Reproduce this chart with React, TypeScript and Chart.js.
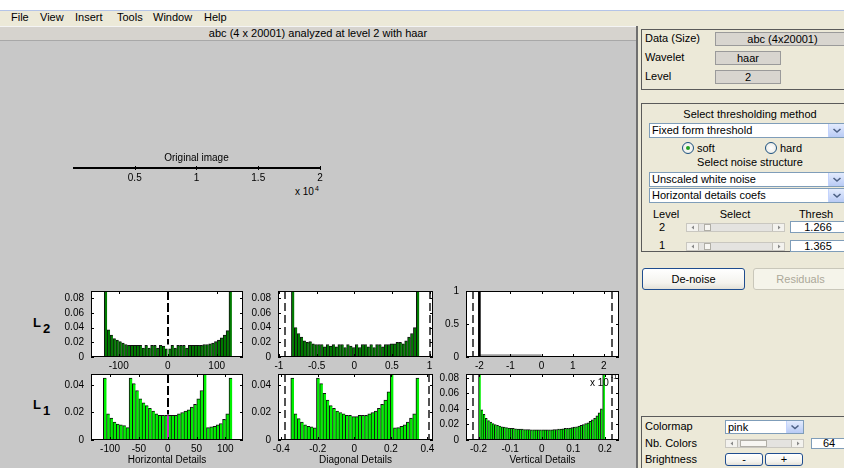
import React, { useEffect, useRef } from "react";
import { Chart, registerables } from "chart.js";

Chart.register(...registerables);

const FONT = "'Liberation Sans', Arial, Helvetica, sans-serif";

// ================= DATA =================
const MENU_ITEMS = ["File", "View", "Insert", "Tools", "Window", "Help"];
const FIGURE_TITLE = "abc (4 x 20001) analyzed at level 2 with haar";

// Original image axis
const ORIGINAL_X_RANGE = [1, 20001];
const ORIGINAL_X_TICKS = [5000, 10000, 15000, 20000];
const ORIGINAL_X_TICK_LABELS = ["0.5", "1", "1.5", "2"];

// Level 2 - Horizontal details histogram
const H2_BIN_RANGE = [-129.5, 131];
const H2_VALUES = [
  0.12, 0.037, 0.030, 0.025, 0.023, 0.021, 0.019, 0.017, 0.016, 0.016, 0.016,
  0.016, 0.016, 0.012, 0.016, 0.012, 0.016, 0.016, 0.012, 0.016, 0.015, 0.011,
  0.011, 0.016, 0.012, 0.016, 0.016, 0.016, 0.012, 0.016, 0.016, 0.016, 0.016,
  0.016, 0.017, 0.017, 0.018, 0.019, 0.021, 0.023, 0.026, 0.030, 0.036, 0.12,
];
const H2_X_RANGE = [-156.5, 153.7];
const H2_X_TICKS = [-100, 0, 100];
const H2_Y_MAX = 0.09;
const H2_Y_TICKS = [0, 0.02, 0.04, 0.06, 0.08];
const H2_THRESHOLDS = [0];

// Level 2 - Diagonal details histogram
const D2_BIN_RANGE = [-0.835, 0.862];
const D2_VALUES = [
  0.12, 0.040, 0.032, 0.027, 0.022, 0.020, 0.021, 0.018, 0.017, 0.017, 0.017,
  0.014, 0.017, 0.015, 0.017, 0.014, 0.017, 0.017, 0.013, 0.017, 0.015, 0.013,
  0.017, 0.013, 0.017, 0.017, 0.014, 0.017, 0.013, 0.017, 0.017, 0.014, 0.017,
  0.017, 0.018, 0.018, 0.020, 0.020, 0.018, 0.022, 0.027, 0.032, 0.040, 0.12,
];
const D2_X_RANGE = [-1.013, 1.045];
const D2_X_TICKS = [-1, -0.5, 0, 0.5, 1];
const D2_Y_MAX = 0.09;
const D2_Y_TICKS = [0, 0.02, 0.04, 0.06, 0.08];
const D2_THRESHOLDS = [-0.92, 1.0];

// Level 2 - Vertical details histogram
const V2_SPIKE = [{ x: -2.0, y: 1 }];
const V2_FLAT = [{ x: -2.0, y: 0.025 }, { x: 0, y: 0.025 }];
const V2_X_RANGE = [-2.43, 2.49];
const V2_X_TICKS = [-2, -1, 0, 1, 2];
const V2_Y_MAX = 1;
const V2_Y_TICKS = [0, 0.5, 1];
const V2_THRESHOLDS = [-2.2, 2.25];

// Level 1 - Horizontal details histogram
const H1_BIN_RANGE = [-111.8, 112];
const H1_VALUES = [
  0.045, 0.019, 0.016, 0.013, 0.0115, 0.011, 0.0105, 0.009,
  0.045, 0.041, 0.036, 0.030, 0.027, 0.025, 0.023, 0.021, 0.019, 0.018, 0.018, 0.018,
  0.018, 0.018, 0.018, 0.019, 0.020, 0.021, 0.022, 0.024, 0.026, 0.030, 0.036, 0.049,
  0.009, 0.0095, 0.010, 0.011, 0.012, 0.015, 0.019, 0.045,
];
const H1_X_RANGE = [-133.2, 130.7];
const H1_X_TICKS = [-100, -50, 0, 50, 100];
const H1_Y_MAX = 0.048;
const H1_Y_TICKS = [0, 0.02, 0.04];
const H1_THRESHOLDS = [0];
const H1_CENTER_LEVEL = 0.0178;

// Level 1 - Diagonal details histogram
const D1_BIN_RANGE = [-0.348, 0.355];
const D1_VALUES = [
  0.045, 0.019, 0.0155, 0.013, 0.011, 0.010, 0.0095, 0.0088,
  0.045, 0.041, 0.034, 0.029, 0.025, 0.023, 0.021, 0.020, 0.019, 0.018, 0.018, 0.017,
  0.017, 0.018, 0.018, 0.018, 0.019, 0.020, 0.021, 0.023, 0.026, 0.029, 0.035, 0.049,
  0.0088, 0.009, 0.010, 0.011, 0.013, 0.016, 0.019, 0.045,
];
const D1_X_RANGE = [-0.418, 0.431];
const D1_X_TICKS = [-0.4, -0.2, 0, 0.2, 0.4];
const D1_Y_MAX = 0.048;
const D1_Y_TICKS = [0, 0.02, 0.04];
const D1_THRESHOLDS = [-0.38, 0.41];

// Level 1 - Vertical details histogram
const V1_BIN_RANGE = [-0.2, 0.2];
const V1_VALUES = [
  0.12, 0.039, 0.033, 0.028, 0.025, 0.023, 0.021, 0.020, 0.019, 0.018, 0.017,
  0.0165, 0.016, 0.0155, 0.015, 0.015, 0.0145, 0.014, 0.014, 0.014, 0.0135,
  0.0135, 0.0135, 0.013, 0.013, 0.013, 0.013, 0.013,
  0.013, 0.013, 0.013, 0.013, 0.013, 0.0135, 0.0135, 0.014, 0.014, 0.0145,
  0.015, 0.015, 0.0155, 0.016, 0.0165, 0.017, 0.018, 0.019, 0.020, 0.021,
  0.022, 0.024, 0.026, 0.028, 0.031, 0.035, 0.040, 0.12,
];
const V1_X_RANGE = [-0.2396, 0.2446];
const V1_X_TICKS = [-0.2, -0.1, 0, 0.1, 0.2];
const V1_Y_MAX = 0.085;
const V1_Y_TICKS = [0, 0.02, 0.04, 0.06, 0.08];
const V1_THRESHOLDS = [-0.218, 0.222];

// ================= CHART HELPERS =================
const L2_FILL = "#007a00";
const L1_FILL = "#00f000";
const BAR_EDGE = "#101010";

function histDataset(range: number[], values: number[], fill: string) {
  const w = (range[1] - range[0]) / values.length;
  return {
    type: "bar",
    data: values.map((v, i) => ({ x: range[0] + (i + 0.5) * w, y: v })),
    backgroundColor: fill,
    borderColor: BAR_EDGE,
    borderWidth: { left: 1, top: 1, right: 0, bottom: 0 },
    borderSkipped: false,
    barPercentage: 1,
    categoryPercentage: 1,
    grouped: false,
    clip: 0,
  };
}

type VLine = { x: number; y0: number; y1: number; color: string; width: number; dash: number[] };
type AxesSpec = {
  left: number;
  top: number;
  width: number;
  height: number;
  xRange: number[];
  yMax: number;
  xTicks: number[];
  yTicks: number[];
  xTickLabels?: string[];
  showY?: boolean;
  axisHeight: number;
  xTitle?: string;
  chartTitle?: string;
  datasets: any[];
  lines?: VLine[];
};

const dashedLines = (xs: number[], yMax: number): VLine[] =>
  xs.map((x) => ({ x, y0: yMax, y1: 0, color: "#1a1a1a", width: 1.5, dash: [8, 4] }));

function MatlabAxes({ spec }: { spec: AxesSpec }) {
  const ref = useRef<HTMLCanvasElement | null>(null);
  const showY = spec.showY !== false;
  const yw = showY ? 40 : 0;
  const padL = showY ? 0 : 14;
  const padR = 14;
  const titleH = spec.chartTitle ? 15 : 0;
  const padT = spec.chartTitle ? 0 : 7;
  const padB = 2;
  const cw = spec.width + yw + padL + padR;
  const ch = spec.height + padT + titleH + spec.axisHeight + padB;
  const cl = spec.left - yw - padL;
  const ct = spec.top - padT - titleH;

  useEffect(() => {
    const canvas = ref.current as HTMLCanvasElement;
    const plugin = {
      id: "matlabAxes",
      beforeDatasetsDraw(chart: any) {
        const { ctx, chartArea: a } = chart;
        ctx.save();
        ctx.fillStyle = "#ffffff";
        ctx.fillRect(a.left, a.top, a.right - a.left, a.bottom - a.top);
        ctx.restore();
      },
      afterDatasetsDraw(chart: any) {
        const { ctx, chartArea: a, scales } = chart;
        const xs = scales.x;
        const ys = scales.y;
        ctx.save();
        ctx.beginPath();
        ctx.rect(a.left, a.top, a.right - a.left, a.bottom - a.top);
        ctx.clip();
        for (const l of spec.lines || []) {
          const px = Math.round(xs.getPixelForValue(l.x));
          ctx.beginPath();
          ctx.strokeStyle = l.color;
          ctx.lineWidth = l.width;
          ctx.setLineDash(l.dash);
          ctx.moveTo(px, ys.getPixelForValue(l.y0));
          ctx.lineTo(px, ys.getPixelForValue(l.y1));
          ctx.stroke();
        }
        ctx.restore();
        ctx.save();
        ctx.strokeStyle = "#000";
        ctx.lineWidth = 1;
        ctx.setLineDash([]);
        ctx.strokeRect(a.left + 0.5, a.top + 0.5, a.right - a.left - 1, a.bottom - a.top - 1);
        ctx.beginPath();
        for (const v of spec.xTicks) {
          const px = Math.round(xs.getPixelForValue(v)) + 0.5;
          ctx.moveTo(px, a.bottom);
          ctx.lineTo(px, a.bottom - 3);
          ctx.moveTo(px, a.top);
          ctx.lineTo(px, a.top + 3);
        }
        if (showY) {
          for (const v of spec.yTicks) {
            const py = Math.round(ys.getPixelForValue(v)) + 0.5;
            ctx.moveTo(a.left, py);
            ctx.lineTo(a.left + 3, py);
            ctx.moveTo(a.right, py);
            ctx.lineTo(a.right - 3, py);
          }
        }
        ctx.stroke();
        ctx.restore();
      },
    };

    const tickFont = { family: FONT, size: 10 };
    const chart = new Chart(canvas, {
      type: "bar",
      data: { datasets: spec.datasets },
      options: {
        animation: false,
        responsive: false,
        maintainAspectRatio: false,
        devicePixelRatio: 1,
        events: [],
        layout: { padding: { left: padL, right: padR, top: padT, bottom: padB } },
        plugins: {
          legend: { display: false },
          tooltip: { enabled: false },
          title: spec.chartTitle
            ? {
                display: true,
                text: spec.chartTitle,
                color: "#000",
                font: { family: FONT, size: 10, weight: "normal" },
                padding: { top: 0, bottom: 3 },
              }
            : { display: false },
        },
        scales: {
          x: {
            type: "linear",
            min: spec.xRange[0],
            max: spec.xRange[1],
            offset: false,
            grid: { display: false, drawTicks: false, offset: false },
            border: { display: false },
            ticks: {
              padding: 3,
              maxRotation: 0,
              minRotation: 0,
              autoSkip: false,
              color: "#000",
              font: tickFont,
              callback: (v: any, i: number) => (spec.xTickLabels ? spec.xTickLabels[i] : String(v)),
            },
            title: spec.xTitle
              ? { display: true, text: spec.xTitle, color: "#000", font: tickFont, padding: { top: 0, bottom: 0 } }
              : { display: false },
            afterBuildTicks: (s: any) => {
              s.ticks = spec.xTicks.map((v) => ({ value: v }));
            },
            afterFit: (s: any) => {
              s.height = spec.axisHeight;
              s.paddingLeft = 0;
              s.paddingRight = 0;
            },
          },
          y: {
            type: "linear",
            display: showY,
            min: 0,
            max: spec.yMax,
            grid: { display: false, drawTicks: false },
            border: { display: false },
            ticks: {
              padding: 7,
              color: "#000",
              font: tickFont,
              callback: (v: any) => String(v),
            },
            afterBuildTicks: (s: any) => {
              s.ticks = spec.yTicks.map((v) => ({ value: v }));
            },
            afterFit: (s: any) => {
              s.width = yw;
              s.paddingTop = 0;
              s.paddingBottom = 0;
            },
          },
        },
      } as any,
      plugins: [plugin],
    } as any);
    return () => chart.destroy();
  }, []);

  return (
    <canvas
      ref={ref}
      width={cw}
      height={ch}
      style={{ position: "absolute", left: cl, top: ct, width: cw, height: ch }}
    />
  );
}

// ================= GUI HELPERS =================
const abs = (l: number, t: number, w: number, h: number, extra: any = {}) => ({
  position: "absolute" as const,
  left: l,
  top: t,
  width: w,
  height: h,
  boxSizing: "border-box" as const,
  ...extra,
});

function Text({ x, cy, text, center, color }: any) {
  const st: any = {
    position: "absolute",
    top: cy - 7,
    height: 14,
    lineHeight: "14px",
    whiteSpace: "nowrap",
    fontSize: 11,
    color: color || "#000",
  };
  if (center) {
    st.left = x - 110;
    st.width = 220;
    st.textAlign = "center";
  } else st.left = x;
  return <div style={st}>{text}</div>;
}

function Frame({ l, t, w, h }: any) {
  return <div style={abs(l, t, w, h, { border: "1px solid #5a5a5a" })} />;
}

function StaticBox({ l, t, w, h, text }: any) {
  return (
    <div
      style={abs(l, t, w, h, {
        background: "#d8d5cf",
        border: "1px solid #9a9a9a",
        textAlign: "center",
        fontSize: 11,
        lineHeight: `${h - 2}px`,
      })}
    >
      {text}
    </div>
  );
}

function EditBox({ l, t, w, h, text }: any) {
  return (
    <div
      style={abs(l, t, w, h, {
        background: "#fff",
        border: "1px solid #7f9db9",
        textAlign: "center",
        fontSize: 11,
        lineHeight: `${h - 2}px`,
      })}
    >
      {text}
    </div>
  );
}

function Popup({ l, t, w, h, text }: any) {
  return (
    <div
      style={abs(l, t, w, h, {
        background: "#fff",
        border: "1px solid #7f9db9",
        fontSize: 11,
        lineHeight: `${h - 2}px`,
        paddingLeft: 2,
        whiteSpace: "nowrap",
        overflow: "hidden",
      })}
    >
      {text}
      <div
        style={{
          position: "absolute",
          right: 0,
          top: 0,
          width: 16,
          height: h - 2,
          background: "linear-gradient(#e3ebfd,#b9cbf5)",
          borderLeft: "1px solid #c3d3fd",
        }}
      >
        <svg width={16} height={h - 2} style={{ display: "block" }}>
          <polyline
            points={`4.5,${(h - 2) / 2 - 1.5} 8,${(h - 2) / 2 + 1.5} 11.5,${(h - 2) / 2 - 1.5}`}
            fill="none"
            stroke="#4d6185"
            strokeWidth={1.6}
          />
        </svg>
      </div>
    </div>
  );
}

function Slider({ l, t, w, h, thumbL, thumbW }: any) {
  const bw = 12;
  return (
    <div style={abs(l, t, w, h, { background: "#e4e3e0", border: "1px solid #c9c7c0" })}>
      <div style={abs(0, 0, bw, h - 2, { background: "#f3f2ee", borderRight: "1px solid #c0beb6" })}>
        <svg width={bw} height={h - 2} style={{ display: "block" }}>
          <polygon points={`${bw / 2 + 1},${(h - 2) / 2 - 2} ${bw / 2 - 1.5},${(h - 2) / 2} ${bw / 2 + 1},${(h - 2) / 2 + 2}`} fill="#888" />
        </svg>
      </div>
      <div style={abs(w - 2 - bw, 0, bw, h - 2, { background: "#f3f2ee", borderLeft: "1px solid #c0beb6" })}>
        <svg width={bw} height={h - 2} style={{ display: "block" }}>
          <polygon points={`${bw / 2 - 1},${(h - 2) / 2 - 2} ${bw / 2 + 1.5},${(h - 2) / 2} ${bw / 2 - 1},${(h - 2) / 2 + 2}`} fill="#888" />
        </svg>
      </div>
      <div style={abs(thumbL, 0, thumbW, h - 2, { background: "#f7f6f2", border: "1px solid #b0aea6" })} />
    </div>
  );
}

function Button({ l, t, w, h, text, disabled }: any) {
  return (
    <div
      style={abs(l, t, w, h, {
        border: disabled ? "1px solid #c9c7ba" : "1px solid #1f4d8f",
        borderRadius: 3,
        background: disabled ? "#f5f4ea" : "linear-gradient(#ffffff,#f4f3ee 70%,#e3e1d8)",
        color: disabled ? "#aca899" : "#000",
        textAlign: "center",
        fontSize: 11,
        lineHeight: `${h - 2}px`,
      })}
    >
      {text}
    </div>
  );
}

function Radio({ cx, cy, on }: any) {
  return (
    <div
      style={abs(cx - 6, cy - 6, 12, 12, {
        borderRadius: "50%",
        border: "1px solid #1c5180",
        background: "radial-gradient(#ffffff,#e6e6e0)",
      })}
    >
      {on ? <div style={abs(3, 3, 4, 4, { borderRadius: "50%", background: "#21a121" })} /> : null}
    </div>
  );
}

function LevelTag({ x, y, n }: any) {
  return (
    <>
      <div style={{ position: "absolute", left: x, top: y, fontSize: 13, fontWeight: "bold", lineHeight: "13px" }}>L</div>
      <div style={{ position: "absolute", left: x + 10, top: y + 6, fontSize: 13, fontWeight: "bold", lineHeight: "13px" }}>{n}</div>
    </>
  );
}

// ================= SPECS =================
const ORIGINAL_SPEC: AxesSpec = {
  left: 73, top: 167, width: 247, height: 2,
  xRange: ORIGINAL_X_RANGE, yMax: 1, xTicks: ORIGINAL_X_TICKS, yTicks: [],
  xTickLabels: ORIGINAL_X_TICK_LABELS, showY: false, axisHeight: 14,
  chartTitle: "Original image", datasets: [],
};

const H2_SPEC: AxesSpec = {
  left: 91, top: 291, width: 152, height: 66,
  xRange: H2_X_RANGE, yMax: H2_Y_MAX, xTicks: H2_X_TICKS, yTicks: H2_Y_TICKS, axisHeight: 14,
  datasets: [histDataset(H2_BIN_RANGE, H2_VALUES, L2_FILL)],
  lines: [
    ...H2_THRESHOLDS.map((x) => ({ x, y0: H2_Y_MAX, y1: 0.017, color: "#000", width: 2, dash: [9, 3] })),
    ...H2_THRESHOLDS.map((x) => ({ x, y0: 0.016, y1: 0, color: "#ffffff", width: 1, dash: [] })),
  ],
};

const D2_SPEC: AxesSpec = {
  left: 278, top: 291, width: 155, height: 66,
  xRange: D2_X_RANGE, yMax: D2_Y_MAX, xTicks: D2_X_TICKS, yTicks: D2_Y_TICKS, axisHeight: 14,
  datasets: [histDataset(D2_BIN_RANGE, D2_VALUES, L2_FILL)],
  lines: dashedLines(D2_THRESHOLDS, D2_Y_MAX),
};

const V2_SPEC: AxesSpec = {
  left: 466, top: 291, width: 153, height: 66,
  xRange: V2_X_RANGE, yMax: V2_Y_MAX, xTicks: V2_X_TICKS, yTicks: V2_Y_TICKS, axisHeight: 14,
  datasets: [
    { type: "bar", data: V2_SPIKE, backgroundColor: "#000", borderWidth: 0, barThickness: 2, clip: 0 },
    { type: "line", data: V2_FLAT, borderColor: "#9c9c9c", borderWidth: 2, pointRadius: 0, clip: 0 },
  ],
  lines: dashedLines(V2_THRESHOLDS, V2_Y_MAX),
};

const H1_SPEC: AxesSpec = {
  left: 91, top: 374, width: 152, height: 66,
  xRange: H1_X_RANGE, yMax: H1_Y_MAX, xTicks: H1_X_TICKS, yTicks: H1_Y_TICKS, axisHeight: 26,
  xTitle: "Horizontal Details",
  datasets: [histDataset(H1_BIN_RANGE, H1_VALUES, L1_FILL)],
  lines: [
    ...H1_THRESHOLDS.map((x) => ({ x, y0: H1_Y_MAX, y1: H1_CENTER_LEVEL + 0.0008, color: "#000", width: 2, dash: [9, 3] })),
    ...H1_THRESHOLDS.map((x) => ({ x, y0: H1_CENTER_LEVEL, y1: 0, color: "#ff00ff", width: 1.5, dash: [] })),
  ],
};

const D1_SPEC: AxesSpec = {
  left: 278, top: 374, width: 155, height: 66,
  xRange: D1_X_RANGE, yMax: D1_Y_MAX, xTicks: D1_X_TICKS, yTicks: D1_Y_TICKS, axisHeight: 26,
  xTitle: "Diagonal Details",
  datasets: [histDataset(D1_BIN_RANGE, D1_VALUES, L1_FILL)],
  lines: dashedLines(D1_THRESHOLDS, D1_Y_MAX),
};

const V1_SPEC: AxesSpec = {
  left: 466, top: 374, width: 153, height: 66,
  xRange: V1_X_RANGE, yMax: V1_Y_MAX, xTicks: V1_X_TICKS, yTicks: V1_Y_TICKS, axisHeight: 26,
  xTitle: "Vertical Details",
  datasets: [histDataset(V1_BIN_RANGE, V1_VALUES, L1_FILL)],
  lines: dashedLines(V1_THRESHOLDS, V1_Y_MAX),
};

const MENU_X = [11, 40, 75, 117, 153, 204];

export default function App() {
  return (
    <div
      style={{
        position: "fixed",
        left: 0,
        top: 0,
        width: 844,
        height: 468,
        overflow: "hidden",
        background: "#c8c8c8",
        fontFamily: FONT,
        fontSize: 11,
        color: "#000",
      }}
    >
      {/* window top strip & menu */}
      <div style={abs(0, 0, 844, 10, { background: "#ffffff" })} />
      <div style={abs(0, 10, 844, 16, { background: "#ece9d8", borderTop: "1px solid #b4c4e8" })} />
      {MENU_ITEMS.map((m, i) => (
        <div key={m} style={{ position: "absolute", left: MENU_X[i], top: 10, height: 15, lineHeight: "15px", fontSize: 11 }}>
          {m}
        </div>
      ))}

      {/* figure title bar */}
      <div
        style={abs(0, 26, 636, 15, {
          background: "#d6d3ce",
          borderTop: "1px solid #f4f4f4",
          borderBottom: "1px solid #a8a8a8",
          textAlign: "center",
          lineHeight: "13px",
          fontSize: 11,
        })}
      >
        {FIGURE_TITLE}
      </div>

      {/* right control panel */}
      <div style={abs(636, 26, 2, 442, { background: "#6f6f6f" })} />
      <div style={abs(638, 26, 206, 442, { background: "#ece9d8" })} />

      <Frame l={641} t={29} w={210} h={61} />
      <Text x={645} cy={38} text="Data  (Size)" />
      <StaticBox l={715} t={32} w={135} h={14} text="abc  (4x20001)" />
      <Text x={645} cy={57} text="Wavelet" />
      <StaticBox l={715} t={51} w={66} h={14} text="haar" />
      <Text x={645} cy={76} text="Level" />
      <StaticBox l={715} t={70} w={66} h={14} text="2" />

      <Frame l={641} t={103} w={210} h={149} />
      <Text x={750} cy={114} text="Select thresholding method" center />
      <Popup l={649} t={123} w={197} h={15} text="Fixed form threshold" />
      <Radio cx={688} cy={148} on />
      <Text x={697} cy={148} text="soft" />
      <Radio cx={771} cy={148} />
      <Text x={780} cy={148} text="hard" />
      <Text x={750} cy={162} text="Select noise structure" center />
      <Popup l={649} t={172} w={197} h={15} text="Unscaled white noise" />
      <Popup l={649} t={188} w={197} h={15} text="Horizontal details coefs" />
      <Text x={653} cy={214} text="Level" />
      <Text x={735} cy={214} text="Select" center />
      <Text x={816} cy={214} text="Thresh" center />
      <Text x={659} cy={227} text="2" />
      <Slider l={686} t={223} w={99} h={9} thumbL={17} thumbW={7} />
      <EditBox l={790} t={221} w={56} h={12} text="1.266" />
      <Text x={659} cy={245} text="1" />
      <Slider l={686} t={242} w={99} h={9} thumbL={17} thumbW={7} />
      <EditBox l={790} t={240} w={56} h={12} text="1.365" />

      <Button l={642} t={268} w={103} h={22} text="De-noise" />
      <Button l={753} t={268} w={95} h={22} text="Residuals" disabled />

      <Frame l={641} t={416} w={210} h={60} />
      <Text x={645} cy={426} text="Colormap" />
      <Popup l={725} t={420} w={79} h={14} text="pink" />
      <Text x={645} cy={443} text="Nb. Colors" />
      <Slider l={725} t={439} w={79} h={9} thumbL={14} thumbW={27} />
      <EditBox l={811} t={438} w={36} h={11} text="64" />
      <Text x={645} cy={459} text="Brightness" />
      <Button l={725} t={453} w={38} h={13} text="-" />
      <Button l={765} t={453} w={38} h={13} text="+" />

      {/* main plot area */}
      <MatlabAxes spec={ORIGINAL_SPEC} />
      <div style={{ position: "absolute", left: 295, top: 186, fontSize: 10, lineHeight: "12px", whiteSpace: "nowrap" }}>
        x 10<sup style={{ fontSize: 7, verticalAlign: "top", position: "relative", top: -3, marginLeft: 1 }}>4</sup>
      </div>

      <LevelTag x={33} y={316} n="2" />
      <LevelTag x={33} y={398} n="1" />

      <MatlabAxes spec={H2_SPEC} />
      <MatlabAxes spec={D2_SPEC} />
      <MatlabAxes spec={V2_SPEC} />
      <MatlabAxes spec={H1_SPEC} />
      <MatlabAxes spec={D1_SPEC} />
      <MatlabAxes spec={V1_SPEC} />

      <div style={{ position: "absolute", left: 590, top: 377, fontSize: 10, lineHeight: "12px", whiteSpace: "nowrap" }}>
        x 10
      </div>
      <div style={{ position: "absolute", left: 611, top: 373, width: 6, overflow: "hidden", fontSize: 7, lineHeight: "8px" }}>
        -1
      </div>
    </div>
  );
}
